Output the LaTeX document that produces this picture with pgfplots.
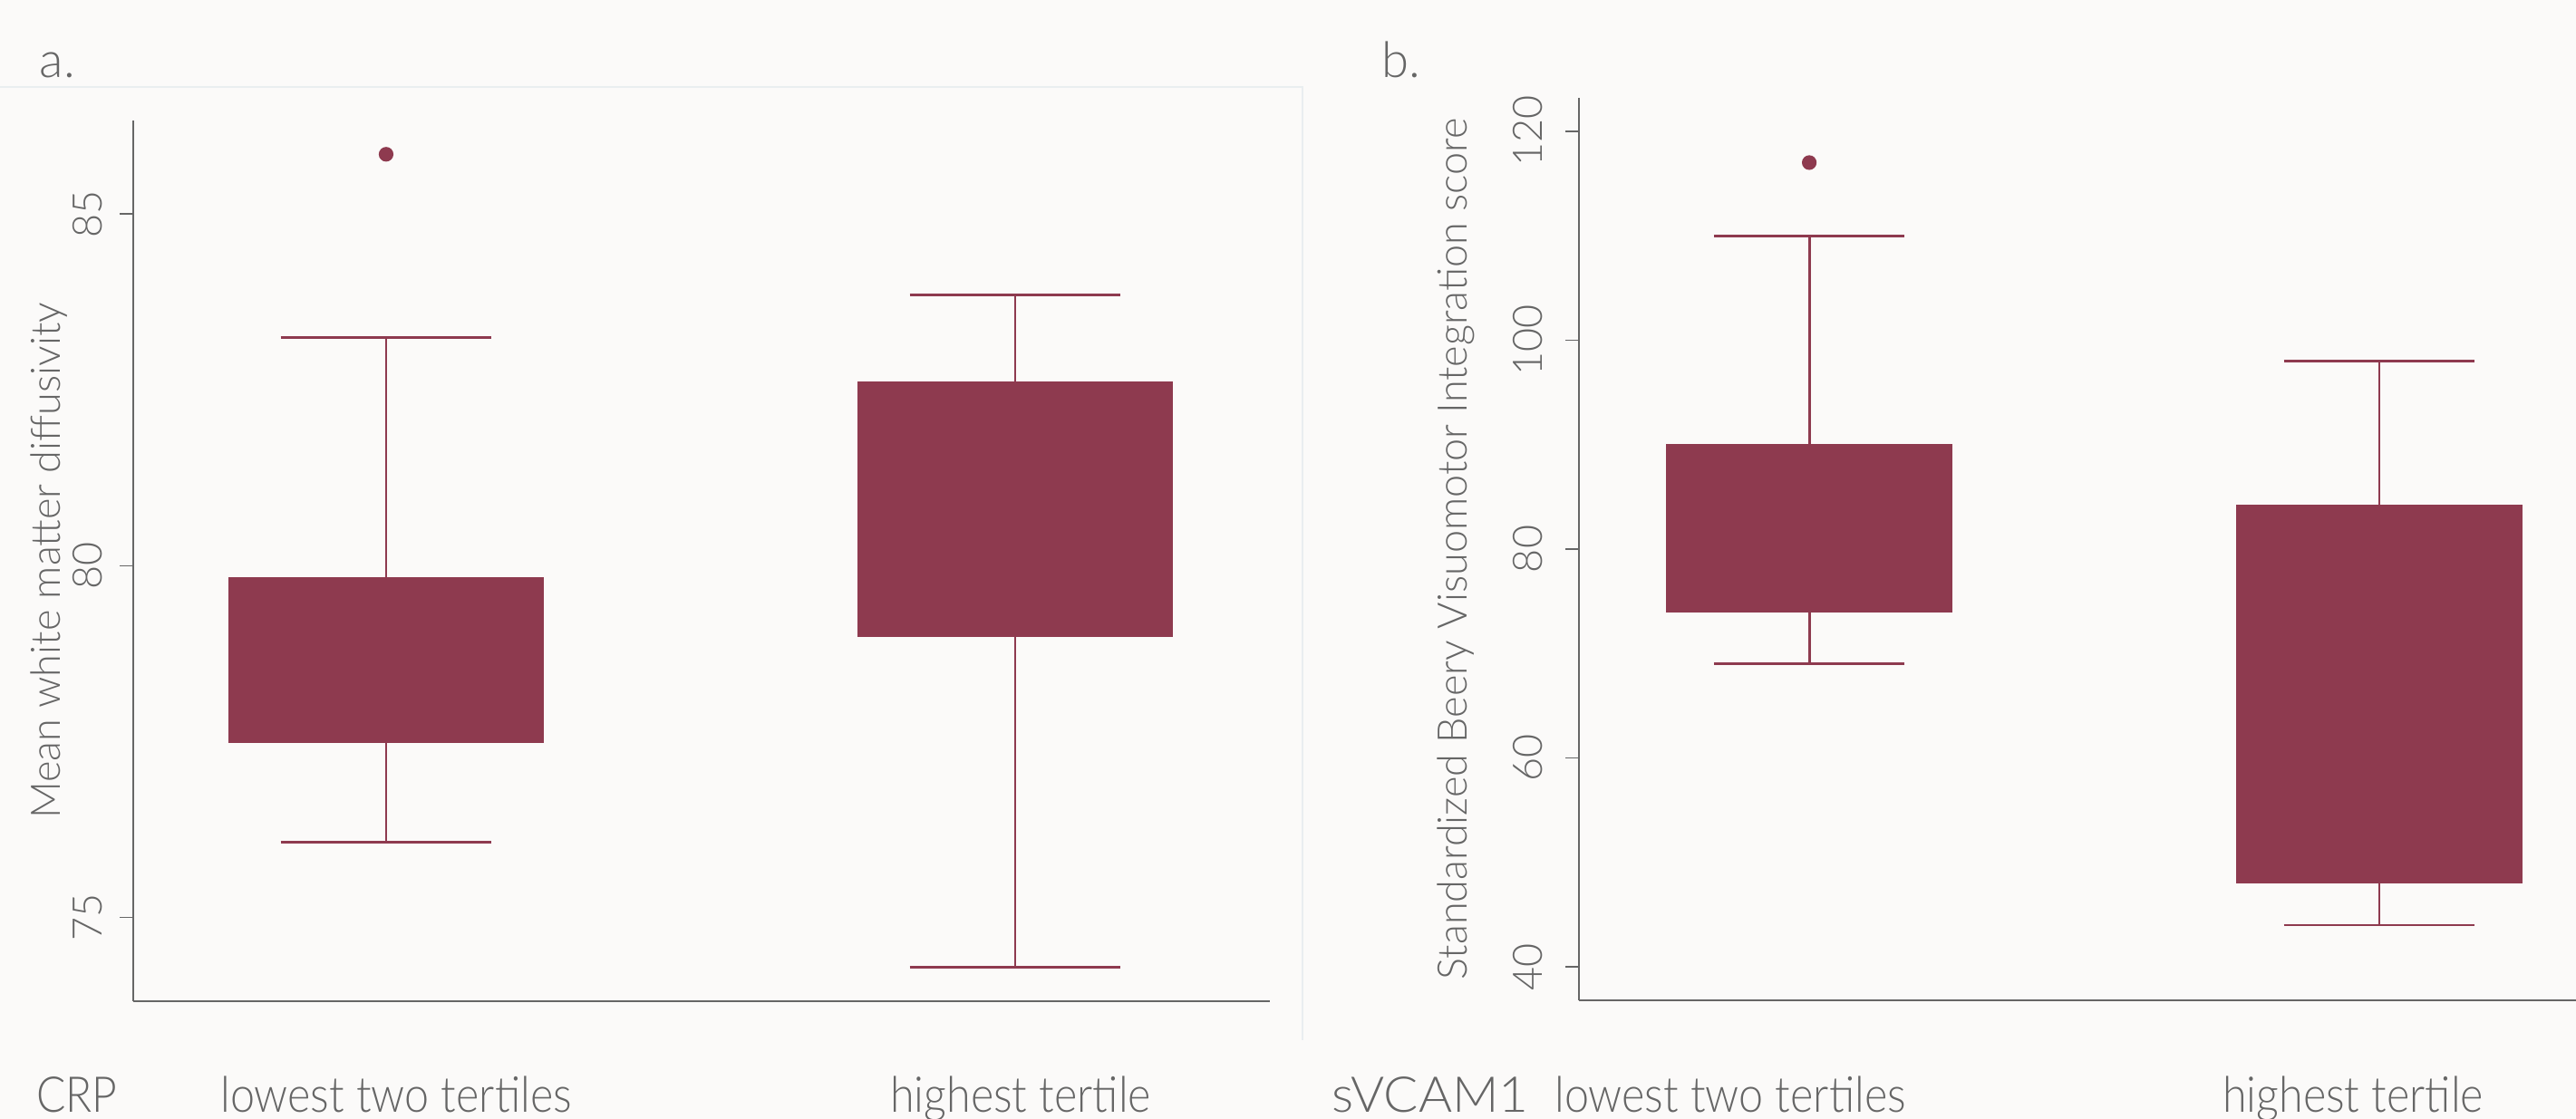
\documentclass[border=0pt]{standalone}
\usepackage{fontspec}
\IfFontExistsTF{Lato Light}{\setmainfont{Lato Light}}{\setmainfont{Lato}}
\usepackage{pgfplots}
\pgfplotsset{compat=1.18}
\definecolor{boxc}{HTML}{8E3A4F}
\definecolor{txt}{HTML}{666666}
\definecolor{bg}{HTML}{FBFAF9}
\definecolor{frame}{HTML}{E9EEF0}
\pgfplotsset{
  mybox/.style={
    scale only axis,
    axis x line*=bottom, axis y line*=left,
    axis line style={draw=txt, line width=0.75pt},
    xtick=\empty,
    tick align=outside,
    major tick length=1.5mm,
    ytick style={draw=txt, line width=0.5pt},
    every tick label/.append style={text=txt, font=\fontsize{12.8}{14}\selectfont},
    /pgf/number format/assume math mode=true,
    yticklabel style={rotate=90, anchor=south, inner sep=0pt},
    ylabel style={text=txt, font=\fontsize{12.8}{15}\selectfont, inner sep=0pt,
      at={(axis description cs:0,0.5)}, anchor=south},
    clip=false,
  },
  boxfill/.style={fill=boxc, draw=boxc, line width=0.3pt},
  whisk/.style={draw=boxc, line width=0.8pt, mark=none},
  outl/.style={only marks, mark=*, mark size=2.1pt, mark options={fill=boxc, draw=boxc}},
}
\begin{document}
\begin{tikzpicture}
\path[use as bounding box] (0,0) rectangle (284.2mm,123.5mm);
\fill[bg] (0,0) rectangle (284.2mm,123.5mm);
\draw[frame, line width=0.25mm] (0,113.9mm) -- (143.7mm,113.9mm) -- (143.7mm,8.7mm);

% Panel a: CRP
\begin{axis}[mybox,
  at={(14.7mm,13.0mm)}, anchor=south west,
  width=125.4mm, height=97.2mm,
  xmin=0.598, xmax=2.405, ymin=73.81, ymax=86.33,
  ytick={75,80,85},
  yticklabel style={yshift=1.8mm},
  ylabel={Mean white matter diffusivity},
  ylabel style={yshift=7.2mm},
]
% lowest two tertiles: whiskers 76.07 / 83.25, quartiles 77.49 / 79.83
\addplot[whisk] coordinates {(1,79.83) (1,83.25)};
\addplot[whisk] coordinates {(1,77.49) (1,76.07)};
\addplot[whisk] coordinates {(0.8325,83.25) (1.1675,83.25)};
\addplot[whisk] coordinates {(0.8325,76.07) (1.1675,76.07)};
\addplot[boxfill] coordinates {(0.75,77.49) (1.25,77.49) (1.25,79.83) (0.75,79.83)} -- cycle;
\addplot[outl] coordinates {(1,85.85)};
% highest tertile: whiskers 74.29 / 83.85, quartiles 79.0 / 82.61
\addplot[whisk] coordinates {(2,82.61) (2,83.85)};
\addplot[whisk] coordinates {(2,79.0) (2,74.29)};
\addplot[whisk] coordinates {(1.8325,83.85) (2.1675,83.85)};
\addplot[whisk] coordinates {(1.8325,74.29) (2.1675,74.29)};
\addplot[boxfill] coordinates {(1.75,79.0) (2.25,79.0) (2.25,82.61) (1.75,82.61)} -- cycle;
\end{axis}

% Panel b: sVCAM1
\begin{axis}[mybox,
  at={(174.2mm,13.1mm)}, anchor=south west,
  width=110mm, height=99.6mm,
  xmin=0.596, xmax=2.345, ymin=36.8, ymax=123.2,
  ytick={40,60,80,100,120},
  yticklabel style={yshift=2.4mm},
  ylabel={Standardized Beery Visuomotor Integration score},
  ylabel style={yshift=11.4mm},
]
\addplot[whisk] coordinates {(1,90) (1,110)};
\addplot[whisk] coordinates {(1,74) (1,69)};
\addplot[whisk] coordinates {(0.8325,110) (1.1675,110)};
\addplot[whisk] coordinates {(0.8325,69) (1.1675,69)};
\addplot[boxfill] coordinates {(0.75,74) (1.25,74) (1.25,90) (0.75,90)} -- cycle;
\addplot[outl] coordinates {(1,117)};
\addplot[whisk] coordinates {(2,84.2) (2,98)};
\addplot[whisk] coordinates {(2,48) (2,44)};
\addplot[whisk] coordinates {(1.8325,98) (2.1675,98)};
\addplot[whisk] coordinates {(1.8325,44) (2.1675,44)};
\addplot[boxfill] coordinates {(1.75,48) (2.25,48) (2.25,84.2) (1.75,84.2)} -- cycle;
\end{axis}

\begin{scope}[every node/.style={text=txt, font=\fontsize{15.5}{18}\selectfont, inner sep=0pt}]
\node[anchor=base west] at (4.3mm,114.9mm) {a.};
\node[anchor=base west] at (152.4mm,114.9mm) {b.};
\node[anchor=base] at (8.5mm,0.7mm) {\scalebox{0.88}[1]{CRP}};
\node[anchor=base] at (43.7mm,0.7mm) {\scalebox{0.89}[1]{lowest two tertiles}};
\node[anchor=base] at (112.6mm,0.7mm) {\scalebox{0.89}[1]{highest tertile}};
\node[anchor=base] at (157.8mm,0.7mm) {\scalebox{1.04}[1]{sVCAM1}};
\node[anchor=base] at (190.9mm,0.7mm) {\scalebox{0.89}[1]{lowest two tertiles}};
\node[anchor=base] at (259.6mm,0.7mm) {\scalebox{0.89}[1]{highest tertile}};
\end{scope}
\end{tikzpicture}
\end{document}
